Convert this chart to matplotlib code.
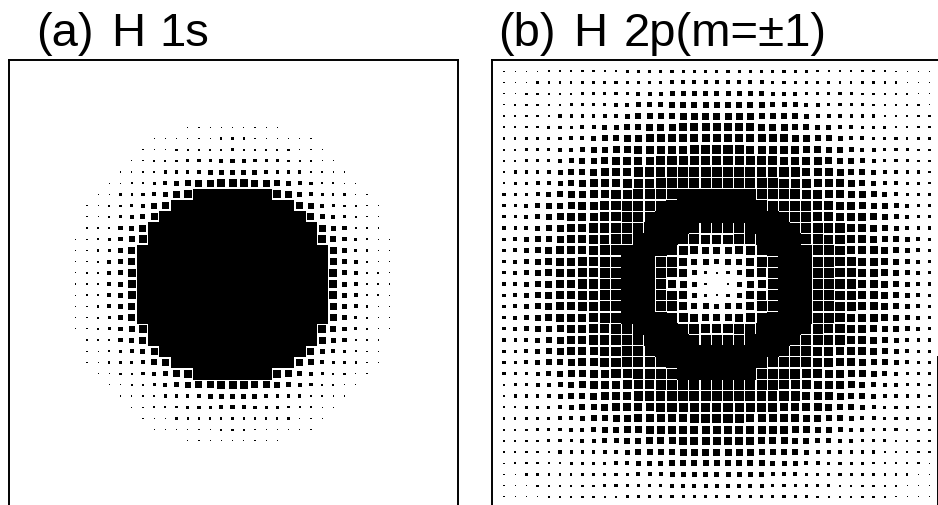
import numpy as np
import matplotlib.pyplot as plt

# square sizes, one quadrant per panel, centre cell first
# digit = side of the square in pixels, a = almost touching, b = solid cell
h_1s_rows = [
    "bbbbbbbbb854221",
    "bbbbbbbbb854221",
    "bbbbbbbbb754211",
    "bbbbbbbbb753211",
    "bbbbbbbb8643211",
    "bbbbbbbb7542210",
    "bbbbbbb75432110",
    "bbbbbb764322110",
    "bbbb87543221100",
    "887765432211000",
    "555433322110000",
    "443332221100000",
    "322222111000000",
    "221111110000000",
    "111110000000000",
]
h_2p_rows = [
    "02578abbbaa998876543",
    "23589abbbaa998876543",
    "5668aabbbaa998876543",
    "7789abbbbaa988876543",
    "99aabbbbaa9988766543",
    "aaabbbbaaa9988765433",
    "bbbbbbaaa99888765433",
    "bbbbbaaaa99887665433",
    "bbbbaaaa998877654333",
    "aaaaaa99988876544332",
    "aaaa9999888766543332",
    "99999988887665433322",
    "99988888776654433322",
    "88888887766544333222",
    "88887776655443332222",
    "77776666544333322222",
    "66666555443333222221",
    "55555444333332222211",
    "44444333333222222111",
    "33333333322222221111",
]

a_words = ['(a)', 'H', '1s']
a_word_x = [36, 111, 159]
b_words = ['(b)', 'H', '2p(m=±1)']
b_word_x = [498, 573, 624]

level_px = {'0': 0, '1': 1.2, '2': 2.2, '3': 3.2, '4': 4.1, '5': 5, '6': 6, '7': 7,
            '8': 8, '9': 9.2, 'a': 10, 'b': 11.8}

W, H = 938, 506
dpi = 100
pitch = 11.2


def full_grid(rows):
    q = np.array([[level_px[c] for c in r] for r in rows])
    return np.block([[q[:0:-1, :0:-1], q[:0:-1, :]],
                     [q[:, :0:-1], q]])


def panel(rows, x0, x1, cx, cy, words, word_x, right_from=61):
    # axes in figure pixels, data units are grid cells around the centre
    ax = fig.add_axes([x0 / W, 0, (x1 - x0) / W, (H - 61) / H])
    ax.set_xlim((x0 - cx) / pitch, (x1 - cx) / pitch)
    ax.set_ylim((H - cy) / pitch, (61 - cy) / pitch)

    g = full_grid(rows)
    n = len(rows) - 1
    yy, xx = np.mgrid[-n:n + 1, -n:n + 1]
    keep = g > 0
    sizes = (g[keep] * 72 / dpi) ** 2
    ax.scatter(xx[keep], yy[keep], s=sizes, marker='s', c='black', linewidths=0, clip_on=True)

    ax.set_xticks([])
    ax.set_yticks([])
    ax.spines['bottom'].set_visible(False)
    for s in ['top', 'left', 'right']:
        ax.spines[s].set_linewidth(1.4)
    ax.spines['right'].set_bounds((right_from - cy) / pitch, (H - cy) / pitch)

    for word, tx in zip(words, word_x):
        fig.text(tx / W, 1 - 46 / H, word, fontsize=34,
                 family=['Liberation Sans Narrow', 'Liberation Sans'], va='baseline', ha='left')
    return ax


fig = plt.figure(figsize=(W / dpi, H / dpi), dpi=dpi)

panel(h_1s_rows, 9, 458, 232.5, 285, a_words, a_word_x)
panel(h_2p_rows, 492, 937.5, 716.8, 285, b_words, b_word_x, right_from=358)

plt.savefig('out.png', dpi=dpi)
